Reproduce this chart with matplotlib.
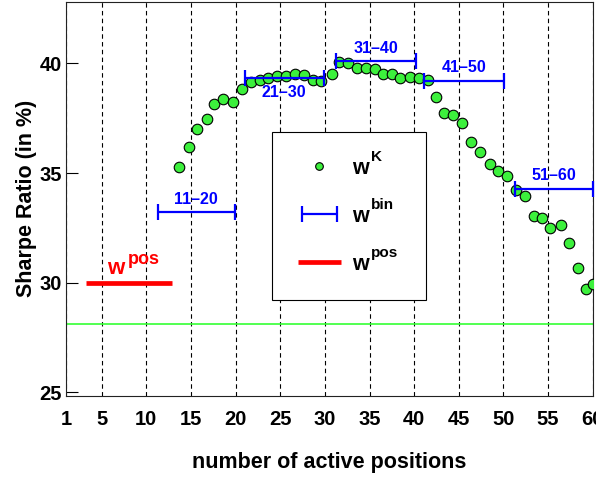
"""Sharpe ratio vs number of active positions (w^K, w^bin, w^pos)."""

import matplotlib
matplotlib.use("Agg")
import matplotlib.pyplot as plt
from matplotlib.lines import Line2D
from matplotlib.container import ErrorbarContainer
from matplotlib.legend_handler import HandlerErrorbar

plt.rcParams["font.family"] = ["Liberation Sans", "DejaVu Sans"]
plt.rcParams["font.weight"] = "bold"

# w^K : Sharpe ratio for each number of active positions
K_POS = [13.7, 14.8, 15.7, 16.8, 17.6, 18.6, 19.7, 20.7, 21.7, 22.7,
         23.6, 24.6, 25.6, 26.6, 27.7, 28.7, 29.6, 30.8, 31.6, 32.6,
         33.6, 34.6, 35.6, 36.5, 37.5, 38.4, 39.5, 40.5, 41.5, 42.4,
         43.3, 44.3, 45.4, 46.4, 47.4, 48.5, 49.4, 50.4, 51.4, 52.4,
         53.4, 54.3, 55.2, 56.4, 57.3, 58.3, 59.2, 60.0]
K_SR = [35.26, 36.17, 37.01, 37.45, 38.15, 38.40, 38.26, 38.83, 39.17, 39.24,
        39.35, 39.44, 39.44, 39.54, 39.46, 39.25, 39.20, 39.50, 40.08, 40.03,
        39.77, 39.80, 39.76, 39.52, 39.52, 39.32, 39.39, 39.33, 39.23, 38.47,
        37.76, 37.63, 37.27, 36.40, 35.97, 35.42, 35.08, 34.85, 34.23, 33.94,
        33.03, 32.96, 32.50, 32.62, 31.80, 30.68, 29.73, 29.95]

# w^bin : binned portfolios
BIN_LABELS = ["11\u201320", "21\u201330", "31\u201340", "41\u201350", "51\u201360"]
BIN_LO = [11.3, 21.0, 31.2, 41.1, 51.3]
BIN_HI = [19.9, 29.9, 40.2, 50.1, 60.0]
BIN_SR = [33.22, 39.32, 40.09, 39.20, 34.28]

# w^pos
POS_RANGE = [3.2, 12.9]
POS_SR = 30.0

# benchmark (green line)
BENCH_SR = 28.1

XTICKS = [1, 5, 10, 15, 20, 25, 30, 35, 40, 45, 50, 55, 60]
YTICKS = [25, 30, 35, 40]

LEG_SUPS = ["K", "bin", "pos"]

GREEN = "#3cf03c"
BLUE = "#0000ff"
RED = "#ff0000"


def superscript(ax, base_text, sup, dx, dy, size, color="black", z=6):
    # superscript placed off the bottom-right corner of the base text
    return ax.annotate(sup, xy=(1, 0), xycoords=base_text, xytext=(dx, dy),
                       textcoords="offset points", ha="left", va="baseline",
                       fontsize=size, fontweight="bold", color=color, zorder=z)


fig = plt.figure(figsize=(5.96, 4.78), dpi=100)
ax = fig.add_axes([0.1107, 0.1722, 0.8838, 0.8236])

ax.axhline(BENCH_SR, color="#33ff33", linewidth=1.2, zorder=2)

ax.plot(K_POS, K_SR, "o", color=GREEN, markersize=7.6,
        markeredgecolor="black", markeredgewidth=0.8, zorder=3)

centers = [(lo + hi) / 2 for lo, hi in zip(BIN_LO, BIN_HI)]
xerr = [[c - lo for c, lo in zip(centers, BIN_LO)],
        [hi - c for c, hi in zip(centers, BIN_HI)]]
eb = ax.errorbar(centers, BIN_SR, xerr=xerr, fmt="none", ecolor=BLUE,
                 elinewidth=1.6, capsize=5.8, capthick=1.6, zorder=4,
                 clip_on=False)

pos_line, = ax.plot(POS_RANGE, [POS_SR, POS_SR], color=RED, linewidth=3.4,
                    solid_capstyle="butt", zorder=4)
w_red = ax.text(5.55, POS_SR + 0.38, "w", color=RED, fontsize=16,
                fontweight="bold", ha="left", va="baseline")
superscript(ax, w_red, "pos", 3, 11, 13, color=RED)

# bin labels (21-30 sits under its bar)
for c, sr, lbl in zip(centers, BIN_SR, BIN_LABELS):
    below = lbl.startswith("21")
    ax.annotate(lbl, (c, sr), xytext=(0, -5 if below else 4),
                textcoords="offset points", ha="center",
                va="top" if below else "bottom", color=BLUE,
                fontsize=11.5, fontweight="bold")

ax.set_xlim(1, 60)
ax.set_ylim(24.85, 42.8)
ax.set_xticks(XTICKS)
ax.set_yticks(YTICKS)
ax.tick_params(axis="x", direction="in", length=0, labelsize=14.5, pad=10)
ax.tick_params(axis="y", direction="in", length=8.5, width=0.8,
               labelsize=14.5, pad=3)
ax.xaxis.grid(True, color="black", linestyle=(0, (4, 3)), linewidth=0.8)
ax.set_axisbelow(True)
for s in ax.spines.values():
    s.set_linewidth(0.8)
    s.set_color("#222222")

ax.set_xlabel("number of active positions", fontsize=15.5, fontweight="bold",
              labelpad=17)
ax.set_ylabel("Sharpe Ratio (in %)", fontsize=15.5, fontweight="bold",
              labelpad=2)

mk = Line2D([], [], marker="o", linestyle="none", color=GREEN,
            markersize=5.5, markeredgecolor="black", markeredgewidth=0.8)
leg = ax.legend([mk, eb, pos_line], ["w", "w", "w"],
                loc="upper left", bbox_to_anchor=(0.391, 0.243, 0.292, 0.427),
                mode="expand", borderaxespad=0, fontsize=15.5,
                handlelength=2.0, handletextpad=0.5, labelspacing=1.25,
                borderpad=1.2, fancybox=False, framealpha=1,
                edgecolor="black",
                handler_map={ErrorbarContainer: HandlerErrorbar(xerr_size=0.8)})
leg.get_frame().set_linewidth(0.8)
leg.set_zorder(5)
for t, sup in zip(leg.get_texts(), LEG_SUPS):
    superscript(ax, t, sup, 2, 13, 11)

fig.savefig("out.png", dpi=100)
